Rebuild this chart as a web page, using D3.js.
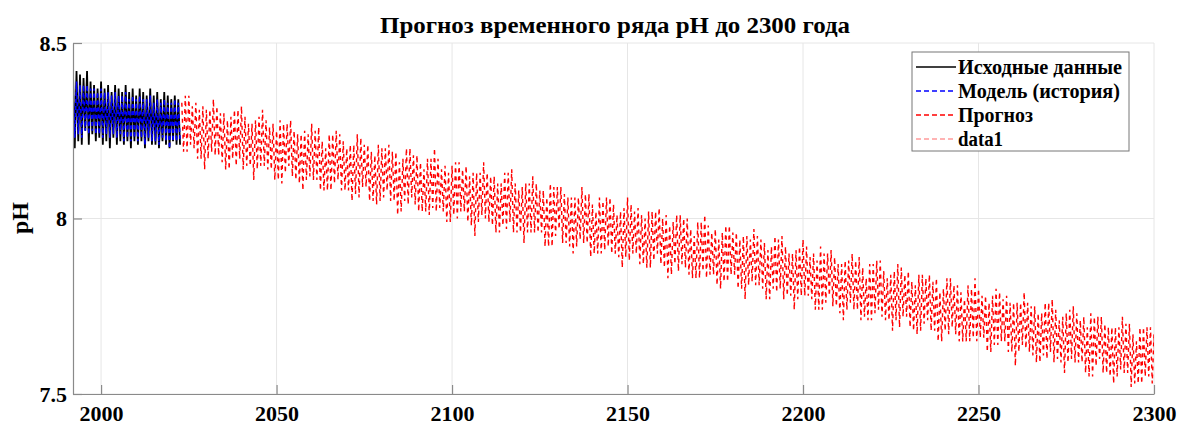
<!DOCTYPE html>
<html><head><meta charset="utf-8">
<script src="https://cdn.jsdelivr.net/npm/d3@7"></script>
<style>
body{margin:0;background:#fff}
text{font-family:"Liberation Serif","Times New Roman",serif;font-weight:bold;fill:#000}
</style>
</head><body>
<svg id="chart" width="1178" height="426"></svg>
<script>
// ---------- data ----------
const titleText = "Прогноз временного ряда pH до 2300 года";
const yLabelText = "pH";
const xTicks = [2000, 2050, 2100, 2150, 2200, 2250, 2300];
const yTicks = [7.5, 8, 8.5];
const seriesNames = ["Исходные данные", "Модель (история)", "Прогноз", "data1"];

// historical period, one high and one low per year
const obsStart = 1992;
const obsHigh = [8.41,8.42,8.41,8.40,8.42,8.39,8.38,8.37,8.39,8.37,8.38,8.36,8.38,8.37,8.36,8.38,8.36,8.37,8.35,8.37,8.36,8.35,8.37,8.35,8.36,8.34,8.36,8.35,8.34,8.35,8.34];
const obsLow  = [8.20,8.22,8.21,8.25,8.21,8.24,8.22,8.23,8.21,8.22,8.20,8.23,8.21,8.22,8.21,8.22,8.20,8.22,8.21,8.22,8.20,8.22,8.21,8.21,8.20,8.22,8.21,8.20,8.22,8.21,8.21];
const modelHigh = [8.39,8.39,8.38,8.38,8.38,8.37,8.37,8.36,8.37,8.36,8.36,8.35,8.36,8.35,8.35,8.36,8.34,8.35,8.34,8.35,8.34,8.34,8.35,8.33,8.34,8.33,8.34,8.33,8.33,8.34,8.33];
const modelLow  = [8.23,8.24,8.23,8.25,8.24,8.25,8.24,8.24,8.23,8.24,8.23,8.24,8.23,8.24,8.22,8.23,8.22,8.23,8.22,8.23,8.21,8.23,8.22,8.22,8.21,8.23,8.22,8.20,8.22,8.22,8.22];

// forecast period, one high and one low per year
const fcStart = 2023;
const fcHigh = [
8.33,8.35,8.35,8.32,8.33,8.31,8.32,8.31,8.31,8.34,
8.32,8.30,8.30,8.28,8.29,8.31,8.31,8.32,8.29,8.27,
8.27,8.28,8.29,8.31,8.28,8.26,8.27,8.25,8.28,8.27,
8.27,8.28,8.25,8.24,8.24,8.25,8.24,8.27,8.25,8.26,
8.22,8.20,8.24,8.24,8.25,8.24,8.22,8.20,8.21,8.21,
8.24,8.23,8.21,8.21,8.19,8.18,8.21,8.20,8.20,8.21,
8.19,8.19,8.16,8.17,8.20,8.20,8.18,8.18,8.16,8.14,
8.17,8.17,8.20,8.17,8.14,8.15,8.13,8.15,8.16,8.16,
8.14,8.15,8.12,8.13,8.13,8.13,8.16,8.13,8.12,8.12,
8.10,8.10,8.13,8.13,8.14,8.10,8.08,8.09,8.10,8.10,
8.12,8.10,8.08,8.08,8.06,8.10,8.09,8.09,8.09,8.07,
8.06,8.06,8.06,8.06,8.09,8.07,8.07,8.04,8.02,8.06,
8.05,8.06,8.06,8.04,8.01,8.02,8.03,8.06,8.04,8.02,
8.03,8.01,8.00,8.02,8.02,8.02,8.03,8.00,8.01,7.98,
7.99,8.01,8.01,8.00,8.00,7.97,7.95,7.99,7.99,8.01,
7.98,7.96,7.97,7.94,7.96,7.98,7.98,7.96,7.96,7.94,
7.95,7.95,7.94,7.97,7.95,7.94,7.93,7.91,7.92,7.95,
7.94,7.95,7.92,7.90,7.90,7.91,7.92,7.94,7.92,7.89,
7.90,7.88,7.92,7.90,7.90,7.91,7.89,7.87,7.87,7.88,
7.88,7.90,7.88,7.89,7.86,7.83,7.87,7.87,7.88,7.88,
7.85,7.83,7.84,7.85,7.87,7.86,7.84,7.85,7.82,7.81,
7.84,7.84,7.83,7.84,7.82,7.83,7.79,7.80,7.83,7.83,
7.81,7.81,7.79,7.77,7.81,7.80,7.83,7.80,7.78,7.78,
7.76,7.78,7.80,7.79,7.77,7.78,7.76,7.76,7.76,7.76,
7.79,7.76,7.75,7.75,7.73,7.73,7.76,7.76,7.77,7.74,
7.71,7.72,7.73,7.74,7.75,7.73,7.71,7.72,7.69,7.73,
7.72,7.72,7.72,7.70,7.69,7.69,7.69,7.69,7.72,7.70,
7.70,7.67,7.65,7.69,7.69,7.69,7.69,7.67];
const fcLow = [
8.19,8.19,8.21,8.20,8.17,8.17,8.14,8.17,8.19,8.18,
8.18,8.16,8.14,8.14,8.17,8.15,8.17,8.14,8.15,8.15,
8.11,8.14,8.15,8.15,8.14,8.14,8.11,8.11,8.10,8.13,
8.15,8.12,8.11,8.10,8.08,8.11,8.12,8.11,8.11,8.08,
8.08,8.08,8.08,8.10,8.11,8.08,8.08,8.08,8.05,8.07,
8.06,8.09,8.09,8.05,8.05,8.04,8.05,8.06,8.08,8.05,
8.05,8.01,8.02,8.05,8.04,8.06,8.04,8.02,8.02,8.02,
8.01,8.03,8.02,8.03,8.02,7.99,7.99,8.01,8.00,8.02,
8.02,7.99,7.98,7.95,7.99,8.01,8.00,7.99,7.98,7.96,
7.96,7.98,7.97,7.99,7.96,7.96,7.96,7.93,7.96,7.96,
7.96,7.96,7.96,7.92,7.92,7.92,7.95,7.97,7.93,7.93,
7.92,7.90,7.92,7.94,7.93,7.93,7.89,7.90,7.90,7.90,
7.91,7.92,7.90,7.90,7.89,7.86,7.89,7.88,7.90,7.90,
7.87,7.87,7.86,7.86,7.88,7.90,7.87,7.86,7.83,7.84,
7.87,7.85,7.87,7.86,7.84,7.83,7.83,7.83,7.85,7.83,
7.84,7.84,7.81,7.80,7.82,7.82,7.84,7.84,7.80,7.80,
7.77,7.81,7.82,7.81,7.81,7.80,7.77,7.77,7.80,7.79,
7.80,7.77,7.78,7.78,7.74,7.77,7.78,7.78,7.78,7.77,
7.74,7.74,7.74,7.76,7.78,7.75,7.75,7.73,7.71,7.74,
7.76,7.74,7.74,7.71,7.72,7.71,7.71,7.73,7.74,7.72,
7.71,7.71,7.68,7.71,7.69,7.72,7.72,7.69,7.68,7.67,
7.68,7.70,7.71,7.68,7.68,7.65,7.65,7.68,7.67,7.69,
7.67,7.65,7.65,7.65,7.65,7.66,7.65,7.66,7.66,7.62,
7.62,7.64,7.64,7.65,7.65,7.62,7.62,7.58,7.62,7.64,
7.63,7.62,7.61,7.59,7.59,7.61,7.60,7.62,7.59,7.60,
7.59,7.56,7.59,7.60,7.59,7.59,7.59,7.56,7.55,7.55,
7.58,7.60,7.56,7.56,7.55,7.53,7.55,7.57,7.56,7.56,
7.52,7.53,7.53,7.53,7.55,7.55,7.53,7.53];

// ---------- layout ----------
const L = 73, R = 1154, T = 43, B = 394;
const svg = d3.select("#chart");
const x = d3.scaleLinear().domain([1992, 2300]).range([L, R]);
const y = d3.scaleLinear().domain([7.5, 8.5]).range([B, T]);

function zig(start, hi, lo) {
  const pts = [];
  hi.forEach((h, i) => { pts.push([start + i, h]); pts.push([start + i + 0.5, lo[i]]); });
  return pts;
}
const line = d3.line().x(d => x(d[0])).y(d => y(d[1]));

// grid
const grid = svg.append("g").attr("stroke", "#e6e6e6").attr("stroke-width", 1);
grid.selectAll("line.vx").data(xTicks).join("line")
  .attr("x1", d => x(d)).attr("x2", d => x(d)).attr("y1", T).attr("y2", B);
grid.selectAll("line.hy").data(yTicks).join("line")
  .attr("y1", d => y(d)).attr("y2", d => y(d)).attr("x1", L).attr("x2", R);

// clip
svg.append("clipPath").attr("id", "clip").append("rect")
  .attr("x", L).attr("y", T - 5).attr("width", R - L).attr("height", B - T + 10);
const plot = svg.append("g").attr("clip-path", "url(#clip)");

plot.append("path").attr("d", line(zig(obsStart, obsHigh, obsLow)))
  .attr("fill", "none").attr("stroke", "#000").attr("stroke-width", 1.8);
plot.append("path").attr("d", line(zig(obsStart, modelHigh, modelLow)))
  .attr("fill", "none").attr("stroke", "#0000ff").attr("stroke-width", 1.6)
  .attr("stroke-dasharray", "4,3");
plot.append("path").attr("d", line(zig(fcStart, fcHigh, fcLow)))
  .attr("fill", "none").attr("stroke", "#ff0000").attr("stroke-width", 1.4)
  .attr("stroke-dasharray", "4,4");

// axes
const axisColor = "#8a8a8a";
const xAxis = svg.append("g").attr("transform", `translate(0,${B})`)
  .call(d3.axisBottom(x).tickValues(xTicks).tickFormat(d3.format("d")).tickSizeInner(-9).tickSizeOuter(0).tickPadding(11));
const yAxis = svg.append("g").attr("transform", `translate(${L},0)`)
  .call(d3.axisLeft(y).tickValues(yTicks).tickFormat(d => String(d)).tickSizeInner(-9).tickSizeOuter(0).tickPadding(6));
[xAxis, yAxis].forEach(a => {
  a.select(".domain").attr("stroke", axisColor).attr("stroke-width", 1.2);
  a.selectAll(".tick line").attr("stroke", axisColor).attr("stroke-width", 1.2);
  a.selectAll(".tick text").attr("fill", "#000")
    .style("font-family", '"Liberation Serif","Times New Roman",serif')
    .style("font-weight", "bold").style("font-size", "22px");
});

// title and axis label
svg.append("text").attr("x", 615).attr("y", 33).attr("text-anchor", "middle")
  .attr("textLength", 470).attr("lengthAdjust", "spacingAndGlyphs")
  .style("font-size", "24px").text(titleText);
svg.append("text").attr("transform", "translate(28,218) rotate(-90)").attr("text-anchor", "middle")
  .style("font-size", "24px").text(yLabelText);

// legend
const lg = svg.append("g");
lg.append("rect").attr("x", 912).attr("y", 52).attr("width", 217).attr("height", 99)
  .attr("fill", "#fff").attr("stroke", "#777").attr("stroke-width", 1);
const legStyles = [
  {c: "#000", d: null, w: 164},
  {c: "#0000ff", d: "5,3", w: 162},
  {c: "#ff0000", d: "5,3", w: 75},
  {c: "#ff9a9a", d: "5,3", w: 45}
];
seriesNames.forEach((n, i) => {
  const cy = 67 + i * 24;
  lg.append("line").attr("x1", 916).attr("x2", 956).attr("y1", cy).attr("y2", cy)
    .attr("stroke", legStyles[i].c).attr("stroke-width", 1.6)
    .attr("stroke-dasharray", legStyles[i].d);
  lg.append("text").attr("x", 958).attr("y", cy + 6.5)
    .attr("textLength", legStyles[i].w).attr("lengthAdjust", "spacingAndGlyphs")
    .style("font-size", "20px").text(n);
});
</script>
</body></html>
